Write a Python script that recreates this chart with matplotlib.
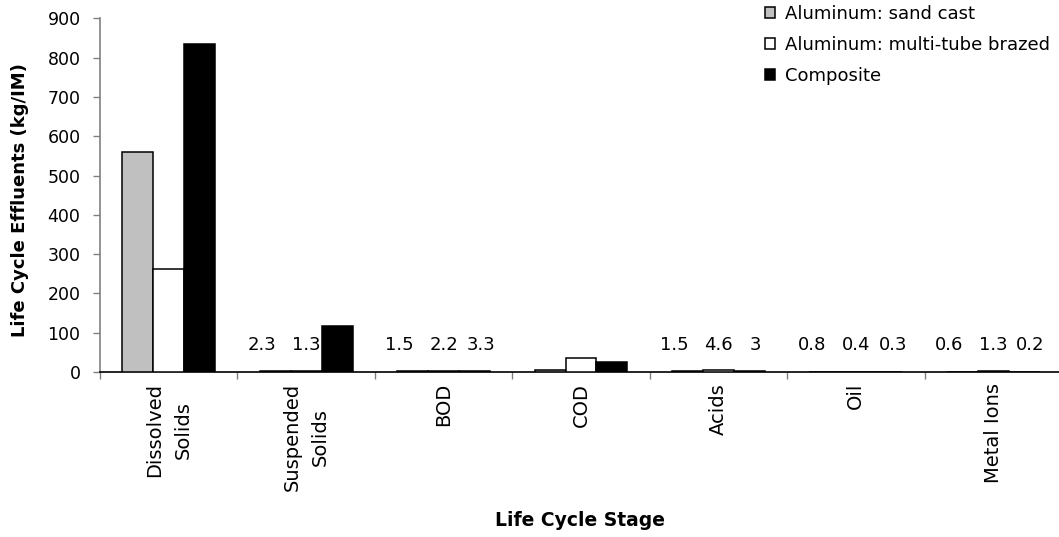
import matplotlib
matplotlib.use("Agg")
import matplotlib.pyplot as plt
import numpy as np

# ---- data ----
categories = ["Dissolved\nSolids", "Suspended\nSolids", "BOD", "COD", "Acids", "Oil", "Metal Ions"]
series_names = ["Aluminum: sand cast", "Aluminum: multi-tube brazed", "Composite"]
sand_cast = [560, 2.3, 1.5, 4, 1.5, 0.8, 0.6]
multi_tube = [263, 1.3, 2.2, 35, 4.6, 0.4, 1.3]
composite = [835, 117, 3.3, 25, 3, 0.3, 0.2]
# which bars carry a data label
sand_cast_labeled = [False, True, True, False, True, True, True]
multi_tube_labeled = [False, True, True, False, True, True, True]
composite_labeled = [False, False, True, False, True, True, True]
yticks = [0, 100, 200, 300, 400, 500, 600, 700, 800, 900]

# ---- style ----
colors = ["#C0C0C0", "#FFFFFF", "#000000"]
label_dx = [-0.32, 0.0, 0.27]   # label offsets from category centre (category units)
label_y = 55                    # baseline of data labels (data units)
plt.rcParams['font.family'] = ['DejaVu Sans']

W, H = 1059, 537
fig = plt.figure(figsize=(W / 100, H / 100), dpi=100)
ax = fig.add_axes([100 / W, 1 - 372 / H, 962 / W, (372 - 18.3) / H])

x = np.arange(len(categories))
bw = 0.225
all_series = [sand_cast, multi_tube, composite]
all_labeled = [sand_cast_labeled, multi_tube_labeled, composite_labeled]
for i, (vals, name, col) in enumerate(zip(all_series, series_names, colors)):
    ax.bar(x + (i - 1) * bw, vals, width=bw, color=col, edgecolor="black",
           linewidth=1.1, label=name, zorder=3)
    for xi, v, show in zip(x, vals, all_labeled[i]):
        if show:
            ax.text(xi + label_dx[i], label_y, "{:g}".format(v), ha="center",
                    va="baseline", fontsize=13, color="black")

ax.set_xlim(-0.5, len(categories) - 0.5)
ax.set_ylim(0, 900)
ax.set_yticks(yticks)
ax.set_yticklabels([str(t) for t in yticks], fontsize=12.5)

# category boundary ticks (major) and labels at centres (minor)
ax.set_xticks(np.arange(-0.5, len(categories) + 0.5, 1.0))
ax.set_xticklabels([])
ax.set_xticks(x, minor=True)
ax.set_xticklabels(categories, minor=True, rotation=90, fontsize=14,
                   ha="center", va="top", multialignment="center",
                   linespacing=1.65)
ax.tick_params(axis="x", which="major", length=5, color="#808080", width=1)
ax.tick_params(axis="x", which="minor", length=0, pad=8)
ax.tick_params(axis="y", which="major", length=5, color="#808080", width=1, pad=9)

for s in ["top", "right"]:
    ax.spines[s].set_visible(False)
ax.spines["left"].set_color("#808080")
ax.spines["left"].set_linewidth(1.2)
ax.spines["bottom"].set_color("black")
ax.spines["bottom"].set_linewidth(1.2)

fig.text(20 / W, 1 - 200 / H, "Life Cycle Effluents (kg/IM)", rotation=90,
         ha="center", va="center", fontsize=13, fontweight="bold")
fig.text(580 / W, 1 - 521 / H, "Life Cycle Stage", ha="center", va="center",
         fontsize=13.5, fontweight="bold")

fig.legend(loc="upper left", bbox_to_anchor=(765 / W, 1 - 5 / H), frameon=False,
           fontsize=13, handlelength=0.55, handleheight=0.55, handletextpad=0.55,
           labelspacing=0.72, borderpad=0, borderaxespad=0)

fig.savefig("out.png", dpi=100)
